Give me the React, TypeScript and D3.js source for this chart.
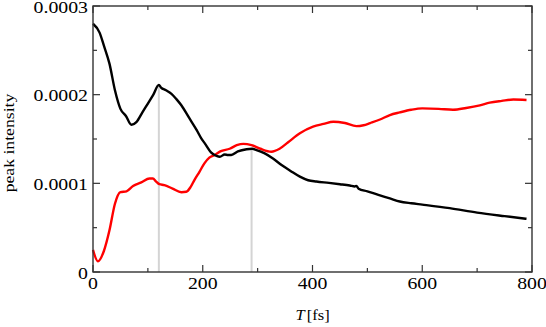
import React from 'react';
import * as d3 from 'd3';

// delay T [fs] and peak intensity (units of 1e-4)
const blackT = [0, 12, 20, 30, 40, 50, 60, 70, 79, 90, 100, 110, 120, 124, 133, 143, 152, 161, 175, 189, 197, 205, 215, 225, 231, 240, 246, 252, 264, 280, 290, 298, 312, 328, 345, 360, 377, 392, 407, 430, 450, 468, 477, 480, 484, 500, 520, 541, 559, 580, 600, 650, 700, 750, 790];
const blackV = [2.80, 2.70, 2.55, 2.35, 2.05, 1.84, 1.76, 1.66, 1.69, 1.80, 1.90, 2.00, 2.11, 2.08, 2.05, 2.01, 1.95, 1.88, 1.74, 1.60, 1.51, 1.44, 1.35, 1.31, 1.30, 1.325, 1.32, 1.32, 1.36, 1.385, 1.39, 1.375, 1.34, 1.28, 1.20, 1.14, 1.075, 1.035, 1.02, 1.005, 0.99, 0.975, 0.965, 0.97, 0.94, 0.91, 0.87, 0.83, 0.795, 0.775, 0.76, 0.72, 0.67, 0.63, 0.60];

const redT = [0, 9, 20, 30, 40, 50, 61, 73, 88, 103, 109, 115, 121, 130, 145, 161, 170, 178, 185, 194, 203, 212, 222, 232, 249, 262, 274, 289, 305, 325, 340, 355, 377, 401, 420, 438, 459, 480, 493, 505, 523, 541, 559, 580, 600, 630, 656, 680, 705, 723, 745, 766, 790];
const redV = [0.25, 0.12, 0.24, 0.47, 0.77, 0.90, 0.91, 0.97, 1.01, 1.055, 1.055, 1.02, 0.99, 0.98, 0.94, 0.90, 0.905, 0.96, 1.04, 1.13, 1.225, 1.29, 1.32, 1.36, 1.39, 1.43, 1.445, 1.43, 1.39, 1.357, 1.39, 1.46, 1.565, 1.64, 1.67, 1.695, 1.68, 1.645, 1.655, 1.68, 1.72, 1.77, 1.80, 1.83, 1.845, 1.84, 1.83, 1.85, 1.88, 1.91, 1.93, 1.945, 1.94];

// grey markers
const markerT = [120, 289];
const markerV = [2.11, 1.39];

const xMajor = [0, 200, 400, 600, 800];
const xMinor = [100, 300, 500, 700];
const yMajor = [0, 1, 2, 3];
const yMinor = [0.5, 1.5, 2.5];
const yLabels = ['0', '0.0001', '0.0002', '0.0003'];

const W = 546, H = 327;
const left = 93, right = 532, top = 6, bottom = 272;

export default function App() {
  const x = d3.scaleLinear().domain([0, 800]).range([left, right]);
  const y = d3.scaleLinear().domain([0, 3]).range([bottom, top]);

  const line = d3.line<[number, number]>()
    .x(d => x(d[0]))
    .y(d => y(d[1]))
    .curve(d3.curveMonotoneX);

  const blackPts = blackT.map((t, i) => [t, blackV[i]] as [number, number]);
  const redPts = redT.map((t, i) => [t, redV[i]] as [number, number]);

  const axisCol = '#333';
  const textStyle = { fontFamily: 'Liberation Serif, DejaVu Serif, serif' };

  return (
    <svg width={W} height={H} style={{ position: 'absolute', left: 0, top: 0, background: '#fff' }}>
      {markerT.map((t, i) => (
        <line key={'m' + i} x1={x(t)} x2={x(t)} y1={y(0)} y2={y(markerV[i])} stroke="#d4d4d4" strokeWidth={2} />
      ))}
      <path d={line(redPts) || ''} fill="none" stroke="#ff0000" strokeWidth={2.4} strokeLinejoin="round" />
      <path d={line(blackPts) || ''} fill="none" stroke="#000" strokeWidth={2.4} strokeLinejoin="round" />

      <rect x={left} y={top} width={right - left} height={bottom - top} fill="none" stroke={axisCol} strokeWidth={1.4} />

      {xMajor.map(t => (
        <g key={'xM' + t}>
          <line x1={x(t)} x2={x(t)} y1={bottom} y2={bottom - 7} stroke={axisCol} strokeWidth={1.2} />
          <line x1={x(t)} x2={x(t)} y1={top} y2={top + 7} stroke={axisCol} strokeWidth={1.2} />
          <text transform={`translate(${x(t)},${288.5}) scale(1.2,1)`} textAnchor="middle" style={textStyle} fontSize={16.5}>{t}</text>
        </g>
      ))}
      {xMinor.map(t => (
        <g key={'xm' + t}>
          <line x1={x(t)} x2={x(t)} y1={bottom} y2={bottom - 4} stroke={axisCol} strokeWidth={1.2} />
          <line x1={x(t)} x2={x(t)} y1={top} y2={top + 4} stroke={axisCol} strokeWidth={1.2} />
        </g>
      ))}
      {yMajor.map((v, i) => (
        <g key={'yM' + v}>
          <line x1={left} x2={left + 7} y1={y(v)} y2={y(v)} stroke={axisCol} strokeWidth={1.2} />
          <line x1={right} x2={right - 7} y1={y(v)} y2={y(v)} stroke={axisCol} strokeWidth={1.2} />
          <text transform={`translate(${88},${y(v) + 6.5}) scale(1.2,1)`} textAnchor="end" style={textStyle} fontSize={16.5}>{yLabels[i]}</text>
        </g>
      ))}
      {yMinor.map(v => (
        <g key={'ym' + v}>
          <line x1={left} x2={left + 4} y1={y(v)} y2={y(v)} stroke={axisCol} strokeWidth={1.2} />
          <line x1={right} x2={right - 4} y1={y(v)} y2={y(v)} stroke={axisCol} strokeWidth={1.2} />
        </g>
      ))}

      <text transform={`translate(${(left + right) / 2},320) scale(1.1,1)`} textAnchor="middle" style={textStyle} fontSize={15}>
        <tspan fontStyle="italic">T</tspan>
        <tspan dx={2}>[fs]</tspan>
      </text>
      <text transform={`translate(14,${(top + bottom) / 2 + 4}) rotate(-90) scale(1.18,1)`} textAnchor="middle" style={textStyle} fontSize={15}>
        peak intensity
      </text>
    </svg>
  );
}
